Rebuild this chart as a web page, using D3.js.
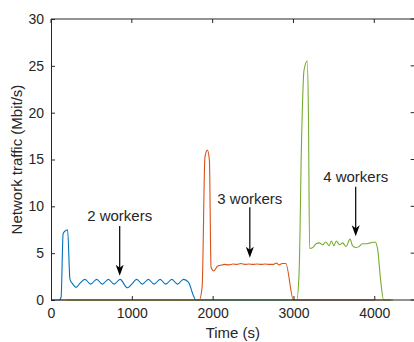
<!DOCTYPE html>
<html>
<head>
<meta charset="utf-8">
<script src="https://cdn.jsdelivr.net/npm/d3@7"></script>
<style>
  body { margin: 0; background: #fff; }
  text { font-family: Arial, "Liberation Sans", sans-serif; fill: #262626; }
</style>
</head>
<body>
<svg id="chart" width="414" height="342"></svg>
<script>
const xTicks = [0, 1000, 2000, 3000, 4000];
const yTicks = [0, 5, 10, 15, 20, 25, 30];

// [time (s), traffic (Mbit/s)]
const twoWorkers = [
  [0, 0], [100, 0], [125, 0.3], [150, 7.1], [180, 7.4], [205, 7.5], [235, 2.2],
  [270, 1.7], [310, 1.35], [360, 1.8], [420, 2.2], [490, 1.7], [565, 2.2],
  [635, 1.7], [710, 2.2], [780, 1.7], [855, 2.2], [945, 1.3], [1000, 1.7],
  [1060, 2.2], [1130, 1.7], [1205, 2.2], [1275, 1.7], [1350, 2.2], [1420, 1.7],
  [1495, 2.2], [1565, 1.7], [1640, 2.2], [1700, 1.9], [1765, 0.4], [1790, 0],
  [4000, 0]
];
const threeWorkers = [
  [100, 0], [1835, 0], [1870, 1.4], [1905, 15.3], [1935, 16.0], [1960, 14.9],
  [1980, 3.5], [2015, 3.1], [2060, 3.6], [2100, 3.7], [2150, 3.8], [2200, 3.75],
  [2250, 3.85], [2300, 3.8], [2350, 3.9], [2400, 3.8], [2450, 3.85], [2500, 3.8],
  [2550, 3.85], [2600, 3.8], [2650, 3.85], [2700, 3.8], [2750, 3.8], [2790, 3.95],
  [2820, 3.75], [2860, 3.9], [2905, 3.9], [3000, 0], [4200, 0]
];
const fourWorkers = [
  [200, 0], [3040, 0], [3070, 3], [3100, 17], [3130, 24.5], [3170, 25.5],
  [3185, 20], [3200, 5.5], [3240, 5.6], [3280, 6.0], [3320, 6.1], [3360, 5.9],
  [3400, 6.2], [3440, 5.8], [3470, 6.3], [3500, 5.8], [3530, 6.3], [3570, 5.9],
  [3610, 6.1], [3650, 5.7], [3700, 6.5], [3730, 5.8], [3770, 5.6], [3810, 5.7],
  [3850, 6.0], [3900, 6.0], [3950, 6.1], [4010, 6.2], [4040, 5.5], [4080, 2],
  [4115, 0], [4230, 0]
];

const seriesList = [
  { values: twoWorkers, color: "#0072BD" },
  { values: threeWorkers, color: "#D95319" },
  { values: fourWorkers, color: "#77AC30" }
];

// label text, label x, label baseline y, arrow start y, arrow tip y (data units)
const notes = [
  { text: "2 workers", x: 850, y: 8.4, y0: 7.9, y1: 2.6 },
  { text: "3 workers", x: 2460, y: 10.3, y0: 9.9, y1: 4.5 },
  { text: "4 workers", x: 3770, y: 12.6, y0: 12.1, y1: 6.8 }
];

const svg = d3.select("#chart");
const plotLeft = 51, plotRight = 414.7, plotTop = 19, plotBottom = 300;

const x = d3.scaleLinear().domain([0, 4500]).range([plotLeft, plotRight]);
const y = d3.scaleLinear().domain([0, 30]).range([plotBottom, plotTop]);

// box
svg.append("line")
  .attr("x1", plotLeft).attr("x2", plotRight).attr("y1", plotTop).attr("y2", plotTop)
  .attr("stroke", "#262626").attr("stroke-width", 1);
svg.append("line")
  .attr("x1", plotRight).attr("x2", plotRight).attr("y1", plotTop).attr("y2", plotBottom)
  .attr("stroke", "#262626").attr("stroke-width", 1);

// top and right inward ticks
svg.append("g").selectAll("line").data(xTicks).enter().append("line")
  .attr("x1", d => x(d)).attr("x2", d => x(d))
  .attr("y1", plotTop).attr("y2", plotTop + 4)
  .attr("stroke", "#262626");
svg.append("g").selectAll("line").data(yTicks).enter().append("line")
  .attr("x1", plotRight - 4).attr("x2", plotRight)
  .attr("y1", d => y(d)).attr("y2", d => y(d))
  .attr("stroke", "#262626");

const line = d3.line()
  .x(d => x(d[0]))
  .y(d => y(d[1]))
  .curve(d3.curveMonotoneX);

svg.append("g").selectAll("path").data(seriesList).enter().append("path")
  .attr("d", d => line(d.values))
  .attr("fill", "none")
  .attr("stroke", d => d.color)
  .attr("stroke-width", 1.1);

// axes
const xAxis = svg.append("g")
  .attr("transform", `translate(0,${plotBottom})`)
  .call(d3.axisBottom(x).tickValues(xTicks).tickSize(-4).tickPadding(8).tickFormat(d3.format("d")));
const yAxis = svg.append("g")
  .attr("transform", `translate(${plotLeft},0)`)
  .call(d3.axisLeft(y).tickValues(yTicks).tickSize(-4).tickPadding(7));

[xAxis, yAxis].forEach(g => {
  g.select(".domain").attr("stroke", "#262626");
  g.selectAll(".tick line").attr("stroke", "#262626");
  g.selectAll(".tick text")
    .style("font-size", "14px")
    .style("font-family", "Arial, 'Liberation Sans', sans-serif")
    .attr("fill", "#262626");
});
xAxis.select(".domain").attr("d", `M${plotLeft},0H${plotRight}`);

// axis titles
svg.append("text")
  .attr("x", (plotLeft + plotRight) / 2)
  .attr("y", 338)
  .attr("text-anchor", "middle")
  .style("font-size", "15px")
  .text("Time (s)");
svg.append("text")
  .attr("transform", `translate(22,${(plotTop + plotBottom) / 2}) rotate(-90)`)
  .attr("text-anchor", "middle")
  .style("font-size", "15px")
  .text("Network traffic (Mbit/s)");

// annotations
const note = svg.append("g").selectAll("g").data(notes).enter().append("g");
note.append("text")
  .attr("x", d => x(d.x))
  .attr("y", d => y(d.y))
  .attr("text-anchor", "middle")
  .style("font-size", "15px")
  .attr("fill", "#000")
  .text(d => d.text);
note.append("line")
  .attr("x1", d => x(d.x)).attr("x2", d => x(d.x))
  .attr("y1", d => y(d.y0)).attr("y2", d => y(d.y1) - 6)
  .attr("stroke", "#000").attr("stroke-width", 1.2);
note.append("path")
  .attr("d", d => {
    const tx = x(d.x), ty = y(d.y1);
    return `M${tx},${ty}L${tx - 4},${ty - 11}L${tx},${ty - 8}L${tx + 4},${ty - 11}Z`;
  })
  .attr("fill", "#000");
</script>
</body>
</html>
